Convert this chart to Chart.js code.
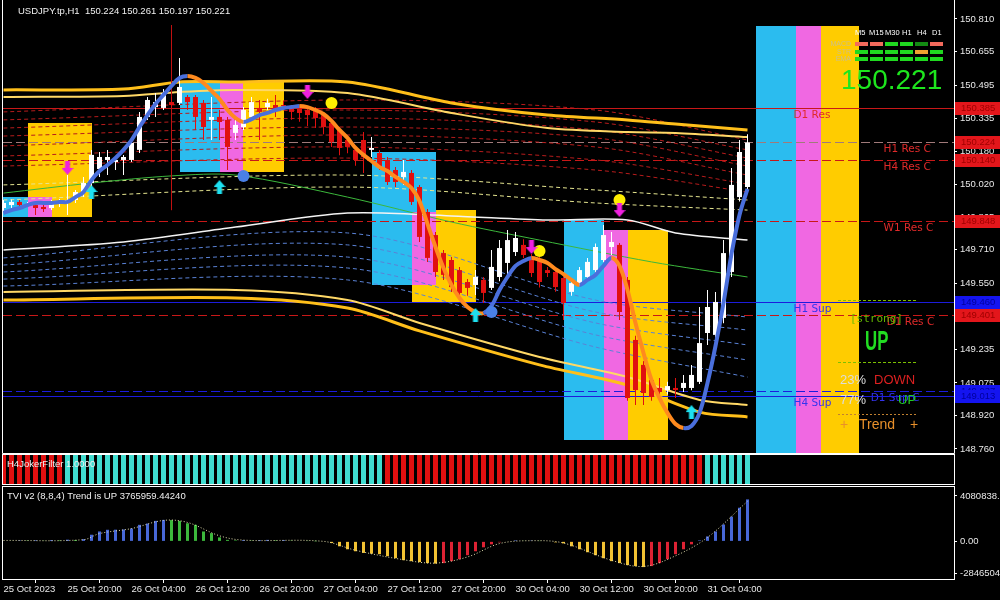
<!DOCTYPE html>
<html>
<head>
<meta charset="utf-8">
<title>USDJPY.tp,H1</title>
<script src="https://cdn.jsdelivr.net/npm/chart.js@4.4.1/dist/chart.umd.min.js"></script>
<style>
  html, body { margin: 0; padding: 0; background: #000; }
  #wrap { position: relative; width: 1000px; height: 600px; background: #000; overflow: hidden; }
  .pane { position: absolute; left: 0; width: 1000px; }
</style>
</head>
<body>
<div id="wrap">
  <div class="pane" style="top:0;height:454px"><canvas id="main"></canvas></div>
  <div class="pane" style="top:454px;height:32px"><canvas id="joker"></canvas></div>
  <div class="pane" style="top:486px;height:114px"><canvas id="tvi"></canvas></div>
</div>
<script>
// H1 candles, index 0 = 25 Oct 12:00
const opens = [149.909,149.923,149.938,149.923,149.923,149.914,149.909,149.928,149.933,149.947,
  149.985,150.028,150.095,150.138,150.128,150.138,150.138,150.186,150.343,150.390,
  150.386,150.414,150.410,150.438,150.438,150.410,150.329,150.343,150.329,150.267,
  150.295,150.343,150.386,150.390,150.400,150.400,150.386,150.386,150.376,150.376,
  150.352,150.314,150.281,150.233,150.186,150.233,150.186,150.171,150.138,150.090,
  150.057,150.076,150.009,149.890,149.780,149.694,149.661,149.613,149.556,149.542,
  149.566,149.528,149.580,149.647,149.699,149.733,149.675,149.661,149.613,149.604,
  149.575,149.509,149.551,149.580,149.613,149.661,149.723,149.733,149.566,149.280,
  149.161,149.089,149.051,149.041,149.051,149.051,149.051,149.080,149.313,149.304,
  149.385,149.604,149.961,150.009];
const highs = [149.947,149.950,149.947,149.938,149.933,149.928,149.947,149.952,150.066,149.995,
  150.057,150.186,150.176,150.186,150.152,150.162,150.233,150.367,150.438,150.457,
  150.476,150.438,150.624,150.448,150.448,150.424,150.438,150.376,150.343,150.329,
  150.390,150.438,150.424,150.430,150.448,150.420,150.400,150.400,150.386,150.390,
  150.367,150.329,150.295,150.250,150.200,150.271,150.247,150.186,150.152,150.104,
  150.138,150.090,150.019,149.904,149.795,149.709,149.675,149.628,149.570,149.613,
  149.580,149.709,149.756,149.804,149.795,149.760,149.690,149.675,149.628,149.620,
  149.590,149.570,149.628,149.670,149.740,149.828,149.795,149.742,149.580,149.300,
  149.180,149.100,149.099,149.080,149.099,149.113,149.161,149.437,149.518,149.509,
  149.756,150.100,150.233,150.261];
const lows = [149.890,149.909,149.914,149.914,149.876,149.890,149.899,149.914,149.876,149.933,
  149.961,150.009,150.057,150.066,150.090,150.066,150.128,150.171,150.329,150.343,
  150.376,150.386,150.400,150.376,150.281,150.233,150.233,150.233,150.090,150.233,
  150.281,150.329,150.233,150.376,150.343,150.376,150.330,150.320,150.300,150.290,
  150.260,150.200,150.160,150.170,150.110,150.076,150.152,150.090,150.019,150.009,
  150.019,149.923,149.747,149.652,149.580,149.566,149.509,149.480,149.490,149.494,
  149.456,149.518,149.560,149.590,149.680,149.670,149.580,149.530,149.580,149.510,
  149.375,149.490,149.540,149.566,149.600,149.650,149.685,149.375,148.990,148.970,
  148.970,148.990,148.994,149.020,149.003,149.032,149.040,149.070,149.256,149.280,
  149.360,149.580,149.940,149.990];
const closes = [149.933,149.938,149.923,149.928,149.909,149.904,149.933,149.938,149.947,149.985,
  150.028,150.162,150.152,150.152,150.138,150.152,150.219,150.343,150.424,150.414,
  150.457,150.400,150.486,150.414,150.343,150.295,150.343,150.319,150.200,150.305,
  150.376,150.414,150.367,150.410,150.376,150.395,150.367,150.362,150.352,150.338,
  150.295,150.224,150.195,150.200,150.138,150.152,150.195,150.104,150.033,150.033,
  150.081,149.938,149.771,149.671,149.604,149.590,149.532,149.504,149.528,149.580,
  149.504,149.628,149.718,149.756,149.766,149.685,149.599,149.556,149.599,149.532,
  149.456,149.551,149.613,149.652,149.723,149.780,149.747,149.413,149.003,149.041,
  149.027,149.008,149.032,149.060,149.041,149.075,149.113,149.265,149.437,149.461,
  149.694,150.019,150.176,150.221];

// thick trend average (blue rising / orange falling)
const trendMa = [149.885,149.899,149.909,149.923,149.933,149.933,149.933,149.938,149.938,149.961,
  149.985,150.042,150.085,150.114,150.147,150.186,150.233,150.295,150.352,150.405,
  150.448,150.491,150.529,150.538,150.529,150.505,150.467,150.429,150.376,150.338,
  150.319,150.333,150.352,150.362,150.376,150.386,150.390,150.395,150.390,150.376,
  150.357,150.324,150.281,150.243,150.195,150.162,150.133,150.104,150.085,150.057,
  150.033,150.004,149.942,149.833,149.723,149.623,149.542,149.480,149.437,149.413,
  149.408,149.442,149.518,149.580,149.633,149.656,149.671,149.661,149.647,149.618,
  149.594,149.566,149.542,149.566,149.590,149.633,149.671,149.633,149.518,149.361,
  149.218,149.089,149.003,148.932,148.879,148.860,148.870,148.932,149.075,149.251,
  149.456,149.690,149.876,150.000];

// band lines (anchor candle index -> price)
const bandUpX = [0, 15, 22, 29, 43, 56, 68, 78, 84, 93];
const bandUpOuter = [150.472,150.476,150.510,150.510,150.510,150.410,150.352,150.329,150.309,150.281];
const bandUpInner = [150.438,150.443,150.462,150.472,150.457,150.362,150.290,150.271,150.267,150.247];
const bandLowX = [0, 29, 43, 52, 67, 78, 87, 93];
const bandLowInner = [149.509,149.518,149.470,149.361,149.199,149.103,148.994,148.970];
const bandLowOuter = [149.470,149.480,149.432,149.323,149.161,149.065,148.936,148.913];
const midX = [0, 15, 29, 43, 56, 68, 78, 84, 93];
const midLine = [149.709,149.747,149.818,149.885,149.871,149.852,149.852,149.790,149.756];
const greenX = [0, 11, 21, 29, 43, 56, 67, 81, 93];
const greenLine = [149.980,150.028,150.062,150.066,149.961,149.842,149.756,149.652,149.580];
const ladderX = [0, 43, 74, 93];
const redLadder = [
  [150.367,150.424,150.376,150.233],
  [150.329,150.376,150.319,150.186],
  [150.290,150.338,150.281,150.147],
  [150.252,150.295,150.243,150.109],
  [150.205,150.257,150.200,150.066],
  [150.157,150.200,150.138,150.023],
  [150.109,150.147,150.090,149.985]
];
const yellowLadder = [
  [150.019,150.066,149.995,149.947],
  [149.947,150.009,149.933,149.899]
];
const blueLadder = [
  [149.671,149.790,149.470,149.389],
  [149.637,149.733,149.413,149.327],
  [149.604,149.675,149.361,149.256],
  [149.570,149.623,149.304,149.184],
  [149.537,149.566,149.246,149.103]
];

// coloured zones: 0 cyan, 1 pink, 2 yellow
const boxFrom = [3, -1, 3, 22, 27, 30, 51, 46, 51, 70, 75, 78, 94, 99, 102.125];
const boxTo   = [11, 3, 6, 27, 30, 35, 59, 54, 54, 75, 78, 83, 99, 102.125, 106.875];
const boxHigh = [150.314,149.961,149.961,150.510,150.510,150.510,149.899,150.176,149.890,149.852,149.804,149.804,150.777,150.777,150.777];
const boxLow  = [149.866,149.866,149.866,150.081,150.081,150.081,149.461,149.542,149.542,148.803,148.803,148.803,148.700,148.700,148.700];
const boxKind = [2, 0, 1, 0, 1, 2, 2, 0, 1, 0, 1, 2, 0, 1, 2];

// support / resistance levels
const levelNames   = ['D1 Res', 'H1 Res C', 'H4 Res C', 'W1 Res C', 'H1 Sup', 'D1 Res C', 'D1 Sup C', 'H4 Sup'];
const levelPrices  = [150.385, 150.224, 150.140, 149.848, 149.460, 149.401, 149.037, 149.013];
const levelSide    = ['res', 'res', 'res', 'res', 'sup', 'res', 'sup', 'sup'];
const levelLabelAt = [98.75, 110, 110, 110, 98.75, 110.4, 108.4, 98.75];

// signal marks
const downArrowX = [8, 38, 66, 77];
const downArrowY = [150.100, 150.462, 149.723, 149.899];
const upArrowX = [11, 27, 59, 86];
const upArrowY = [149.985, 150.009, 149.399, 148.936];
const yellowDotX = [41, 67, 77];
const yellowDotY = [150.410, 149.704, 149.947];
const blueDotX = [30, 61];
const blueDotY = [150.062, 149.413];
const markerLineX = 21;
const markerLineY = [150.781, 149.899];

// H4JokerFilter state per candle (1 up, -1 down)
const joker = [-1,-1,-1,-1,-1,-1,-1,-1,
  1,1,1,1,1,1,1,1,1,1, 1,1,1,1,1,1,1,1,1,1, 1,1,1,1,1,1,1,1,1,1, 1,1,1,1,1,1,1,1,1,1,
  -1,-1,-1,-1,-1,-1,-1,-1,-1,-1, -1,-1,-1,-1,-1,-1,-1,-1,-1,-1, -1,-1,-1,-1,-1,-1,-1,-1,-1,-1, -1,-1,-1,-1,-1,-1,-1,-1,-1,-1,
  1,1,1,1,1,1];

// TVI v2 histogram and its dotted signal
const tvi = [60000,40000,80000,70000,100000,60000,120000,90000,150000,120000,200000,
  595000,888000,1040000,1048000,1066000,1155000,1483000,1598000,1838000,1927000,
  1910000,1838000,1625000,1483000,888000,737000,355000,133000,89000,115000,
  71000,107000,133000,89000,115000,71000,44000,27000,9000,-44000,
  -151000,-444000,-710000,-888000,-1039000,-1110000,-1154000,-1332000,-1510000,-1687000,
  -1776000,-1865000,-1954000,-1998000,-1954000,-1776000,-1598000,-1243000,-888000,-533000,
  -266000,-89000,44000,89000,53000,71000,27000,-44000,-89000,-178000,
  -444000,-710000,-977000,-1243000,-1510000,-1776000,-1954000,-2131000,-2220000,-2309000,
  -2220000,-1954000,-1598000,-1154000,-710000,-266000,89000,444000,888000,1510000,
  2220000,3019000,3765959];
const tviSigX = [0, 10, 12, 16, 20, 23, 27, 30, 40, 44, 50, 54, 58, 62, 66, 70, 76, 80, 84, 88, 93];
const tviSig = [80000,150000,700000,1150000,1880000,1700000,500000,110000,0,-800000,-1650000,
  -1950000,-1400000,-200000,60000,-150000,-1700000,-2250000,-1300000,350000,3600000];
const tviTicks = [4080838.69, 0, -2846504.40];

const priceTicks = [150.810,150.655,150.495,150.335,150.180,150.020,149.865,149.710,149.550,149.395,149.235,149.075,148.920,148.760];
const timeTickIdx = [0, 8, 16, 24, 32, 40, 48, 56, 64, 72, 80, 88];
const timeLabels = ['25 Oct 2023','25 Oct 20:00','26 Oct 04:00','26 Oct 12:00','26 Oct 20:00','27 Oct 04:00',
  '27 Oct 12:00','27 Oct 20:00','30 Oct 04:00','30 Oct 12:00','30 Oct 20:00','31 Oct 04:00'];

// dashboard in the top-right corner
const tfNames = ['M5', 'M15', 'M30', 'H1', 'H4', 'D1'];
const tfRowNames = ['MACD', 'STR', 'EMA'];
const tfRows = [[0,0,1,1,2,0],[1,1,1,1,3,1],[1,1,1,1,1,1]];
const trendDown = 23, trendUp = 77;

// ---------------------------------------------------------------
const X_MIN = -0.0625, X_MAX = 118.8125;
const Y_MIN = 148.7409, Y_MAX = 150.8958;
const UP = '#ffffff', DOWN = '#e01010';
const FONT = '"Liberation Sans", Arial, sans-serif';
Chart.defaults.font.family = FONT;

const pts = (xs, ys) => xs.map((x, k) => ({ x: x, y: ys[k] }));
const idx = opens.map((v, i) => i);

function arrow(color, down) {
  const c = document.createElement('canvas');
  c.width = 12; c.height = 14;
  const g = c.getContext('2d');
  g.fillStyle = color;
  g.beginPath();
  if (down) {
    g.moveTo(6, 14); g.lineTo(12, 7); g.lineTo(8.5, 7); g.lineTo(8.5, 0);
    g.lineTo(3.5, 0); g.lineTo(3.5, 7); g.lineTo(0, 7);
  } else {
    g.moveTo(6, 0); g.lineTo(12, 7); g.lineTo(8.5, 7); g.lineTo(8.5, 14);
    g.lineTo(3.5, 14); g.lineTo(3.5, 7); g.lineTo(0, 7);
  }
  g.closePath(); g.fill();
  return c;
}

function bandLine(xs, ys, color, width, dash, order) {
  return { type: 'line', data: pts(xs, ys), borderColor: color, borderWidth: width,
    borderDash: dash, pointRadius: 0, tension: 0.3, order: order };
}

// keep the plot area exactly where the layout padding puts it
const noEdgePad = s => { s.paddingTop = 0; s.paddingBottom = 0; };

const boxColor = ['#2bbcef', '#f068e2', '#ffcc00'];
const sigColor = ['#f26a5c', '#20d820', '#138c13', '#f0a030'];

const mainDeco = {
  id: 'mainDeco',
  beforeDatasetsDraw(chart) {
    const { ctx, chartArea: a, scales: { x, y } } = chart;
    ctx.save();
    ctx.beginPath(); ctx.rect(a.left, a.top, a.width, a.height); ctx.clip();
    for (let k = 0; k < boxFrom.length; k++) {
      const x0 = Math.round(x.getPixelForValue(boxFrom[k])), x1 = Math.round(x.getPixelForValue(boxTo[k]));
      const y0 = Math.round(y.getPixelForValue(boxHigh[k])), y1 = Math.round(y.getPixelForValue(boxLow[k]));
      ctx.fillStyle = boxColor[boxKind[k]];
      ctx.fillRect(x0, y0, x1 - x0, y1 - y0);
    }
    ctx.font = '10.5px "DejaVu Sans"';
    ctx.textBaseline = 'middle';
    levelPrices.forEach((p, k) => {
      const py = Math.round(y.getPixelForValue(p)) + 0.5;
      const res = levelSide[k] === 'res';
      ctx.strokeStyle = res ? (k === 1 ? '#a07a7a' : '#c81818') : '#1c1cdc';
      ctx.setLineDash(levelNames[k].endsWith(' C') ? [9, 4] : []);
      ctx.lineWidth = 1;
      ctx.beginPath(); ctx.moveTo(a.left, py); ctx.lineTo(a.right, py); ctx.stroke();
      ctx.fillStyle = res ? '#e02a2a' : '#3434ee';
      ctx.fillText(levelNames[k], x.getPixelForValue(levelLabelAt[k]), py + 6.5);
    });
    ctx.restore();
  },
  afterDraw(chart) {
    const { ctx, chartArea: a, scales: { y } } = chart;
    ctx.save();
    ctx.strokeStyle = '#fff'; ctx.lineWidth = 1; ctx.setLineDash([]);
    ctx.beginPath();
    ctx.moveTo(a.left - 0.5, 0); ctx.lineTo(a.left - 0.5, a.bottom + 0.5);
    ctx.lineTo(a.right + 0.5, a.bottom + 0.5); ctx.lineTo(a.right + 0.5, 0);
    ctx.stroke();

    // price tags
    ctx.font = '9.5px ' + FONT; ctx.textBaseline = 'middle'; ctx.textAlign = 'left';
    levelPrices.forEach((p, k) => {
      const py = Math.round(y.getPixelForValue(p));
      const res = levelSide[k] === 'res';
      ctx.fillStyle = res ? '#e3161b' : '#1414f0';
      ctx.fillRect(a.right + 1, py - 6, 47, 13);
      ctx.fillStyle = res ? '#a00000' : '#00009c';
      ctx.fillText(p.toFixed(3), a.right + 7, py + 0.5);
    });

    // title
    ctx.fillStyle = '#f0f0f0';
    ctx.fillText('USDJPY.tp,H1  150.224 150.261 150.197 150.221', 18, 11);

    // timeframe matrix
    const tfX = [855, 870, 885, 900, 915, 930];
    const tfTextX = [855, 869, 885, 902, 917, 932];
    ctx.font = '7.5px ' + FONT; ctx.fillStyle = '#ffffff';
    tfNames.forEach((t, k) => ctx.fillText(t, tfTextX[k], 33));
    const rowY = [44, 52, 59];
    ctx.font = '7px ' + FONT; ctx.textAlign = 'right'; ctx.fillStyle = '#cbbf8c';
    tfRowNames.forEach((t, r) => ctx.fillText(t, 851, rowY[r]));
    ctx.textAlign = 'left';
    tfRows.forEach((row, r) => row.forEach((s, k) => {
      ctx.fillStyle = sigColor[s];
      ctx.fillRect(tfX[k], rowY[r] - 2, 13, 4);
    }));
    ctx.font = '28px ' + FONT; ctx.fillStyle = '#1ee61e'; ctx.textBaseline = 'alphabetic';
    ctx.fillText(closes[closes.length - 1].toFixed(3), 841, 89);

    // strength panel
    ctx.lineWidth = 1;
    ctx.strokeStyle = '#7cc000'; ctx.setLineDash([3, 2]);
    [300.5, 362.5].forEach(py => { ctx.beginPath(); ctx.moveTo(838, py); ctx.lineTo(917, py); ctx.stroke(); });
    ctx.strokeStyle = '#c08030'; ctx.setLineDash([2, 2]);
    ctx.beginPath(); ctx.moveTo(838, 414.5); ctx.lineTo(917, 414.5); ctx.stroke();
    ctx.setLineDash([]);
    ctx.textBaseline = 'middle';
    ctx.font = '11px "DejaVu Sans Mono"'; ctx.fillStyle = '#66bb00';
    ctx.fillText('[strong]', 850, 319);
    ctx.save();
    ctx.translate(865, 342); ctx.scale(0.6, 1);
    ctx.font = 'bold 28px ' + FONT; ctx.fillStyle = '#22dd22';
    ctx.fillText('UP', 0, 0);
    ctx.restore();
    ctx.font = '13px ' + FONT;
    ctx.fillStyle = '#dcdcdc'; ctx.fillText(trendDown + '%', 840, 380);
    ctx.fillStyle = '#dd2020'; ctx.fillText('DOWN', 874, 380);
    ctx.fillStyle = '#dcdcdc'; ctx.fillText(trendUp + '%', 840, 400);
    ctx.fillStyle = '#22cc22'; ctx.fillText('UP', 898, 400);
    ctx.font = '14px ' + FONT; ctx.fillStyle = '#e8902a';
    ctx.fillText('+', 840, 425); ctx.fillText('Trend', 859, 425); ctx.fillText('+', 910, 425);
    ctx.restore();
  }
};

const candleColor = c => closes[c.dataIndex] >= opens[c.dataIndex] ? UP : DOWN;
const segColor = c => c.p1.parsed.y >= c.p0.parsed.y ? '#4a6fdc' : '#ff8a1e';

const mainSets = [
  { type: 'line', data: pts(downArrowX, downArrowY), showLine: false, pointStyle: arrow('#f020e0', true), pointRadius: 6, order: 0 },
  { type: 'line', data: pts(upArrowX, upArrowY), showLine: false, pointStyle: arrow('#1ee0f0', false), pointRadius: 6, order: 0 },
  { type: 'line', data: pts(yellowDotX, yellowDotY), showLine: false, pointRadius: 6, pointBackgroundColor: '#ffee00', pointBorderWidth: 0, order: 0 },
  { type: 'line', data: pts(blueDotX, blueDotY), showLine: false, pointRadius: 6, pointBackgroundColor: '#4a80e6', pointBorderWidth: 0, order: 0 },
  { type: 'line', data: trendMa.map((v, i) => ({ x: i, y: v })), borderWidth: 4, pointRadius: 0, tension: 0.35,
    borderColor: '#4a6fdc', segment: { borderColor: segColor }, order: 1 },
  { type: 'bar', data: idx.map(i => ({ x: i, y: [opens[i], closes[i]] })), backgroundColor: candleColor,
    grouped: false, maxBarThickness: 5, minBarLength: 1, inflateAmount: 0, order: 2 },
  { type: 'bar', data: idx.map(i => ({ x: i, y: [lows[i], highs[i]] })), backgroundColor: candleColor,
    grouped: false, maxBarThickness: 1, inflateAmount: 0, order: 3 },
  { type: 'line', data: [{ x: markerLineX, y: markerLineY[0] }, { x: markerLineX, y: markerLineY[1] }],
    borderColor: '#c01010', borderWidth: 1, pointRadius: 0, order: 3 },
  bandLine(bandUpX, bandUpOuter, '#ffbf1a', 3, [], 4),
  bandLine(bandUpX, bandUpInner, '#ffd866', 2, [], 4),
  bandLine(bandLowX, bandLowInner, '#ffd866', 2, [], 4),
  bandLine(bandLowX, bandLowOuter, '#ffbf1a', 3, [], 4),
  bandLine(midX, midLine, '#f4f4f4', 1.5, [], 5),
  bandLine(greenX, greenLine, '#3cb83c', 1, [], 5)
];
redLadder.forEach(l => mainSets.push(bandLine(ladderX, l, '#b81c1c', 1, [4, 3], 6)));
yellowLadder.forEach(l => mainSets.push(bandLine(ladderX, l, '#e6e690', 1, [4, 3], 6)));
blueLadder.forEach(l => mainSets.push(bandLine(ladderX, l, '#5a82d6', 1, [4, 3], 6)));

const base = {
  responsive: true, maintainAspectRatio: false, animation: false, events: [],
  plugins: { legend: { display: false }, tooltip: { enabled: false } }
};

new Chart(document.getElementById('main'), {
  type: 'bar',
  data: { datasets: mainSets },
  options: Object.assign({}, base, {
    layout: { autoPadding: false, padding: { left: 3, top: 1, right: 0, bottom: 1 } },
    scales: {
      x: { type: 'linear', min: X_MIN, max: X_MAX, display: false, offset: false },
      y: {
        position: 'right', min: Y_MIN, max: Y_MAX,
        afterFit: s => { s.width = 46; noEdgePad(s); },
        afterBuildTicks: s => { s.ticks = priceTicks.map(v => ({ value: v })); },
        grid: { drawOnChartArea: false, color: '#ffffff', tickLength: 3 },
        border: { display: false },
        ticks: { color: '#e8e8e8', font: { size: 9.5 }, padding: 3, autoSkip: false, callback: v => v.toFixed(3) }
      }
    }
  }),
  plugins: [mainDeco]
});

const framePlugin = (label) => ({
  id: 'frame',
  afterDraw(chart) {
    const { ctx, chartArea: a } = chart;
    ctx.save();
    ctx.strokeStyle = '#fff'; ctx.lineWidth = 1;
    ctx.strokeRect(a.left - 0.5, a.top - 0.5, a.width + 1, a.height + 1);
    ctx.font = '9.5px ' + FONT; ctx.fillStyle = '#f0f0f0'; ctx.textBaseline = 'middle';
    ctx.fillText(label, 7, a.top + 9);
    ctx.restore();
  }
});

new Chart(document.getElementById('joker'), {
  type: 'bar',
  data: { datasets: [{
    data: joker.map((v, i) => ({ x: i, y: 1 })),
    backgroundColor: c => joker[c.dataIndex] > 0 ? '#40dcd0' : '#e01010',
    grouped: false, maxBarThickness: 5, inflateAmount: 0
  }] },
  options: Object.assign({}, base, {
    layout: { autoPadding: false, padding: { left: 3, top: 1, right: 46, bottom: 2 } },
    scales: {
      x: { type: 'linear', min: X_MIN, max: X_MAX, display: false, offset: false },
      y: { min: 0, max: 1, display: false }
    }
  }),
  plugins: [framePlugin('H4JokerFilter 1.0000')]
});

const tviColor = c => {
  const i = c.dataIndex, v = tvi[i], p = i > 0 ? tvi[i - 1] : 0;
  if (v >= 0) return v >= p ? '#4868d8' : '#3cb83c';
  return v <= p ? '#f2c232' : '#dd2233';
};

new Chart(document.getElementById('tvi'), {
  type: 'bar',
  data: { datasets: [
    { type: 'line', data: pts(tviSigX, tviSig), borderColor: '#e4e0b0', borderWidth: 1, borderDash: [1, 2],
      pointRadius: 0, tension: 0.35, order: 0 },
    { data: tvi.map((v, i) => ({ x: i, y: v })), backgroundColor: tviColor, grouped: false,
      maxBarThickness: 3, inflateAmount: 0, order: 1 }
  ] },
  options: Object.assign({}, base, {
    layout: { autoPadding: false, padding: { left: 3, top: 1, right: 0, bottom: 0 } },
    scales: {
      x: {
        type: 'linear', min: X_MIN, max: X_MAX, offset: false, position: 'bottom',
        afterBuildTicks: s => { s.ticks = timeTickIdx.map(v => ({ value: v })); },
        afterFit: s => { s.height = 21; s.paddingLeft = 0; s.paddingRight = 0; },
        grid: { drawOnChartArea: false, color: '#ffffff', tickLength: 4 },
        border: { display: false },
        ticks: { color: '#e8e8e8', font: { size: 9.5 }, align: 'start', maxRotation: 0, autoSkip: false,
          padding: 1, callback: (v, k) => timeLabels[k] }
      },
      y: {
        position: 'right', min: -3379000, max: 4880000,
        afterFit: s => { s.width = 46; noEdgePad(s); },
        afterBuildTicks: s => { s.ticks = tviTicks.map(v => ({ value: v })); },
        grid: { drawOnChartArea: false, color: '#ffffff', tickLength: 3 },
        border: { display: false },
        ticks: { color: '#e8e8e8', font: { size: 9.5 }, padding: 3, autoSkip: false,
          callback: v => v.toFixed(2) }
      }
    }
  }),
  plugins: [framePlugin('TVI v2 (8,8,4) Trend is UP 3765959.44240')]
});
</script>
</body>
</html>
